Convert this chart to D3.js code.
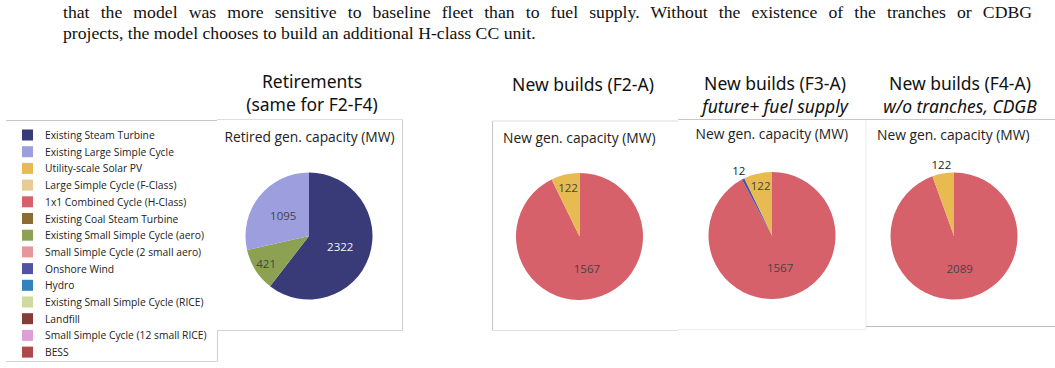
<!DOCTYPE html>
<html>
<head>
<meta charset="utf-8">
<script src="https://cdn.jsdelivr.net/npm/d3@7"></script>
<style>
  html, body { margin: 0; padding: 0; background: #fff; }
  #wrap { position: relative; width: 1055px; height: 368px; overflow: hidden; }
  .para { position: absolute; left: 63px; width: 969px; font-family: "Liberation Serif", "Times New Roman", serif; font-size: 17.7px; line-height: 22px; color: #111; white-space: nowrap; }
  #l1 { top: 1px; text-align: justify; text-align-last: justify; }
  #l2 { top: 22px; }
  svg { position: absolute; left: 0; top: 0; }
</style>
</head>
<body>
<div id="wrap">
  <div class="para" id="l1">that the model was more sensitive to baseline fleet than to fuel supply. Without the existence of the tranches or CDBG</div>
  <div class="para" id="l2">projects, the model chooses to build an additional H-class CC unit.</div>
  <svg id="chart" width="1055" height="368"></svg>
</div>
<script>
// ---------- data ----------
const legendCategories = [
  "Existing Steam Turbine",
  "Existing Large Simple Cycle",
  "Utility-scale Solar PV",
  "Large Simple Cycle (F-Class)",
  "1x1 Combined Cycle (H-Class)",
  "Existing Coal Steam Turbine",
  "Existing Small Simple Cycle (aero)",
  "Small Simple Cycle (2 small aero)",
  "Onshore Wind",
  "Hydro",
  "Existing Small Simple Cycle (RICE)",
  "Landfill",
  "Small Simple Cycle (12 small RICE)",
  "BESS"
];
const legendColors = ["#393b79","#9c9ede","#e7ba52","#e7cb94","#d6616b","#8c6d31","#8ca252",
  "#e7969c","#5254a3","#3182bd","#cedb9c","#843c39","#de9ed6","#ad494a"];

const retCategories = ["Existing Steam Turbine", "Existing Small Simple Cycle (aero)", "Existing Large Simple Cycle"];
const retValues = [2322, 421, 1095];

const f2Categories = ["1x1 Combined Cycle (H-Class)", "Utility-scale Solar PV"];
const f2Values = [1567, 122];

const f3Categories = ["1x1 Combined Cycle (H-Class)", "Onshore Wind", "Utility-scale Solar PV"];
const f3Values = [1567, 12, 122];

const f4Categories = ["1x1 Combined Cycle (H-Class)", "Utility-scale Solar PV"];
const f4Values = [2089, 122];

const panelTitles = [
  ["Retirements", "(same for F2-F4)"],
  ["New builds (F2-A)", ""],
  ["New builds (F3-A)", "future+ fuel supply"],
  ["New builds (F4-A)", "w/o tranches, CDGB"]
];
const panelSubtitles = ["Retired gen. capacity (MW)", "New gen. capacity (MW)", "New gen. capacity (MW)", "New gen. capacity (MW)"];

// ---------- drawing ----------
const svg = d3.select("#chart");
const color = d3.scaleOrdinal().domain(legendCategories).range(legendColors);
const border = "#d4d4d4";

function line(x1, y1, x2, y2, c) {
  svg.append("line").attr("x1", x1).attr("y1", y1).attr("x2", x2).attr("y2", y2)
    .attr("stroke", c || border).attr("stroke-width", 1.2);
}

// legend box
line(6, 120.5, 217, 120.5, "#c8c8c8");
line(6, 361.5, 217.5, 361.5);
line(217.5, 330.5, 217.5, 361.5);
// retirements box
line(217, 119.5, 402.5, 119.5, "#dedede");
line(402.5, 119.5, 402.5, 330.5);
line(217, 330.5, 402.5, 330.5);
// F2 box
line(492.5, 121, 492.5, 330.5, "#c8c8c8");
line(492.5, 121, 678, 121, "#dddddd");
line(492.5, 330.5, 678, 330.5, "#dedede");
// F3 box
line(678, 119.5, 866, 119.5, "#c8c8c8");
line(678, 329.5, 866, 329.5, "#eeeeee");
line(866, 119.5, 866, 329.5, "#eeeeee");
// F4 box
line(866, 119.5, 1055, 119.5, "#c8c8c8");
line(866, 326.5, 1055, 326.5, "#bdbdbd");

// legend
const lg = svg.append("g");
legendCategories.forEach((c, i) => {
  const y = 135 + i * 16.7;
  lg.append("rect").attr("x", 22).attr("y", y - 5.5).attr("width", 11).attr("height", 11).attr("fill", color(c));
  lg.append("text").attr("x", 45).attr("y", y).attr("dominant-baseline", "central")
    .attr("font-family", "Open Sans, sans-serif").attr("font-size", 10.3).attr("fill", "#222").text(c);
});

const panels = [
  { cats: retCategories, vals: retValues, cx: 309, cy: 236, tx: 312, sx: 309.5, sy: 136, anchor: "middle", ty: 81 },
  { cats: f2Categories, vals: f2Values, cx: 579.5, cy: 236.5, tx: 583, sx: 503, sy: 137, anchor: "start", ty: 84 },
  { cats: f3Categories, vals: f3Values, cx: 772, cy: 235.5, tx: 775, sx: 695.5, sy: 133, anchor: "start", ty: 83 },
  { cats: f4Categories, vals: f4Values, cx: 954, cy: 236, tx: 960, sx: 877, sy: 134, anchor: "start", ty: 83 }
];
const R = 63.5;
const arc = d3.arc().innerRadius(0).outerRadius(R);
const pie = d3.pie().sort(null).value(d => d.v);

panels.forEach((p, k) => {
  const g = svg.append("g");
  // titles
  g.append("text").attr("x", p.tx).attr("y", p.ty).attr("text-anchor", "middle").attr("dominant-baseline", "central")
    .attr("font-family", "Noto Sans, sans-serif").attr("font-size", 17.5).attr("fill", "#111").text(panelTitles[k][0]);
  if (panelTitles[k][1]) {
    g.append("text").attr("x", p.tx).attr("y", p.ty + 23).attr("text-anchor", "middle").attr("dominant-baseline", "central")
      .attr("font-family", "Noto Sans, sans-serif").attr("font-size", 17.5).attr("fill", "#111")
      .attr("font-style", k === 0 ? "normal" : "italic").text(panelTitles[k][1]);
  }
  g.append("text").attr("x", p.sx).attr("y", p.sy).attr("text-anchor", p.anchor).attr("dominant-baseline", "central")
    .attr("font-family", "Open Sans, sans-serif").attr("font-size", 13.8).attr("fill", "#222").text(panelSubtitles[k]);

  const data = p.cats.map((c, i) => ({ c, v: p.vals[i] }));
  const arcs = pie(data);
  const pg = g.append("g").attr("transform", `translate(${p.cx},${p.cy})`);
  pg.selectAll("path").data(arcs).join("path").attr("d", arc).attr("fill", d => color(d.data.c));
  pg.selectAll("text").data(arcs).join("text")
    .attr("transform", d => {
      const span = (d.endAngle - d.startAngle) * 180 / Math.PI;
      const f = span < 22 ? 1.15 : (span < 60 ? 0.8 : 0.52);
      const a = (d.startAngle + d.endAngle) / 2;
      return `translate(${Math.sin(a) * R * f},${-Math.cos(a) * R * f})`;
    })
    .attr("text-anchor", "middle").attr("dominant-baseline", "central")
    .attr("font-family", "Open Sans, sans-serif").attr("font-size", 11.5)
    .attr("fill", d => {
      const span = (d.endAngle - d.startAngle) * 180 / Math.PI;
      if (span < 22) return "#222";
      return d.data.c === "Existing Steam Turbine" ? "#f2f2f2" : "#444";
    })
    .text(d => d.data.v);
});
</script>
</body>
</html>
